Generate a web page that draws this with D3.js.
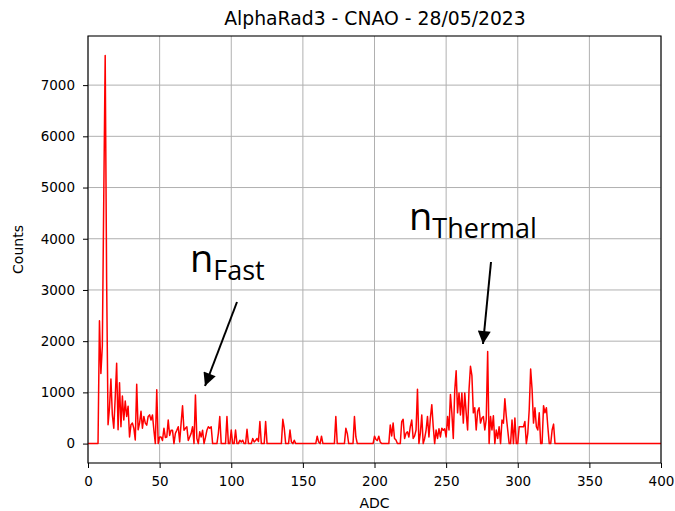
<!DOCTYPE html>
<html>
<head>
<meta charset="utf-8">
<script src="https://cdn.jsdelivr.net/npm/d3@7"></script>
<style>
  html, body { margin: 0; padding: 0; background: #fff; }
  svg { display: block; }
  text { font-family: "DejaVu Sans", sans-serif; fill: #000; }
</style>
</head>
<body>
<svg id="chart" width="675" height="511"></svg>
<script>
// Spectrum: counts per ADC channel (index = channel)
const countsLow = [
  0, 0, 0, 0, 0, 0, 0, 0, 2400, 1370,
  1900, 4800, 7580, 3200, 370, 700, 1260, 560, 300, 900,
  1570, 270, 1190, 330, 930, 460, 830, 530, 730, 130,
  370, 400, 300, 70, 1160, 270, 400, 630, 300, 530,
  400, 360, 530, 560, 460, 560, 260, 0, 1050, 0,
  130, 130, 60, 300, 120, 130, 460, 160, 260, 260,
  0, 200, 260, 330, 30, 400, 740, 260, 300, 330,
  60, 130, 200, 330, 0, 950, 100, 0, 230, 130,
  260, 0, 120, 260, 330, 300, 330, 0, 0, 0,
  0, 200, 530, 0, 0, 0, 0, 530, 0, 0
];
const countsMid = [
  265, 0, 0, 265, 0, 0, 66, 30, 66, 0,
  0, 280, 0, 0, 0, 100, 30, 60, 100, 40,
  430, 0, 0, 0, 430, 0, 0, 0, 0, 0,
  0, 0, 0, 0, 0, 0, 475, 300, 0, 0,
  0, 265, 30, 0, 66, 0, 0, 0, 0, 0,
  0, 0, 0, 0, 0, 0, 0, 0, 0, 0,
  145, 30, 0, 145, 0, 0, 0, 0, 0, 0,
  0, 0, 0, 530, 0, 0, 0, 0, 0, 0,
  300, 200, 0, 0, 0, 0, 530, 130, 0, 0,
  0, 0, 0, 0, 0, 0, 0, 0, 0, 0
];
const countsHigh = [
  145, 80, 60, 145, 30, 0, 0, 0, 0, 0,
  0, 364, 150, 400, 100, 70, 0, 0, 0, 430,
  475, 100, 200, 230, 130, 330, 460, 100, 150, 265,
  1060, 0, 200, 560, 0, 100, 260, 530, 130, 500,
  760, 330, 0, 265, 100, 290, 130, 300, 260, 290,
  130, 530, 265, 960, 600, 100, 1030, 1420, 600, 990,
  560, 990, 400, 990, 600, 265, 1060, 1510, 1325, 600,
  700, 265, 630, 700, 400, 500, 530, 265, 470, 1800,
  0, 530, 265, 545, 0, 265, 100, 330, 0, 460,
  400, 875, 530, 265, 0, 0, 460, 0, 500, 0
];
const countsTail = [
  0, 330, 330, 330, 330, 430, 0, 200, 660, 1455,
  1060, 400, 700, 330, 265, 600, 0, 0, 740, 600,
  700, 330, 0, 0, 265, 380, 0
];
const counts = countsLow.concat(countsMid, countsHigh, countsTail);
while (counts.length < 401) counts.push(0);
const spectrum = counts.map((c, i) => ({ adc: i, count: c }));

const xTicks = [0, 50, 100, 150, 200, 250, 300, 350, 400];
const yTicks = [0, 1000, 2000, 3000, 4000, 5000, 6000, 7000];

const titleText = "AlphaRad3 - CNAO - 28/05/2023";
const xLabel = "ADC";
const yLabel = "Counts";

// Peak annotations: label, subscript, arrow from/to in pixels
const notes = [
  { main: "n", sub: "Fast", tx: 190, ty: 272, from: [237, 302], to: [205, 386] },
  { main: "n", sub: "Thermal", tx: 409, ty: 230, from: [491, 262], to: [483, 344] }
];

const svg = d3.select("#chart");
const plotL = 88, plotR = 661, plotT = 36, plotB = 463;

const x = d3.scaleLinear().domain([0, 400]).range([plotL, plotR]);
const y = d3.scaleLinear().domain([-379, 7959]).range([plotB, plotT]);

// grid
const grid = svg.append("g");
grid.selectAll("line.gx").data(xTicks).enter().append("line")
  .attr("x1", d => x(d)).attr("x2", d => x(d))
  .attr("y1", plotT).attr("y2", plotB)
  .attr("stroke", "#b0b0b0").attr("stroke-width", 1);
grid.selectAll("line.gy").data(yTicks).enter().append("line")
  .attr("x1", plotL).attr("x2", plotR)
  .attr("y1", d => y(d)).attr("y2", d => y(d))
  .attr("stroke", "#b0b0b0").attr("stroke-width", 1);

// spectrum line
const line = d3.line().x(d => x(d.adc)).y(d => y(d.count));
svg.append("path").datum(spectrum)
  .attr("d", line)
  .attr("fill", "none")
  .attr("stroke", "#ff0000")
  .attr("stroke-width", 1.5)
  .attr("stroke-linejoin", "round");

// frame
svg.append("rect")
  .attr("x", plotL).attr("y", plotT)
  .attr("width", plotR - plotL).attr("height", plotB - plotT)
  .attr("fill", "none").attr("stroke", "#000").attr("stroke-width", 1.1);

// axes
const fmt = d3.format("d");
const xAxis = d3.axisBottom(x).tickValues(xTicks).tickFormat(fmt).tickSizeOuter(0).tickSize(5).tickPadding(8);
const yAxis = d3.axisLeft(y).tickValues(yTicks).tickFormat(fmt).tickSizeOuter(0).tickSize(5).tickPadding(8);
const gx = svg.append("g").attr("transform", `translate(0,${plotB})`).call(xAxis);
const gy = svg.append("g").attr("transform", `translate(${plotL},0)`).call(yAxis);
[gx, gy].forEach(g => {
  g.select(".domain").remove();
  g.selectAll("text").style("font-family", "DejaVu Sans").style("font-size", "13.5px").attr("fill", "#000");
  g.selectAll("line").attr("stroke", "#000");
});

// title and axis labels
svg.append("text").attr("x", (plotL + plotR) / 2 + 0.5).attr("y", 25)
  .attr("text-anchor", "middle").style("font-size", "18.8px").text(titleText);
svg.append("text").attr("x", (plotL + plotR) / 2).attr("y", 508)
  .attr("text-anchor", "middle").style("font-size", "14px").text(xLabel);
svg.append("text").attr("transform", `translate(23,${(plotT + plotB) / 2}) rotate(-90)`)
  .attr("text-anchor", "middle").style("font-size", "14px").text(yLabel);

// annotations
const defs = svg.append("defs");
defs.append("marker").attr("id", "head")
  .attr("viewBox", "0 0 10 10").attr("refX", 10).attr("refY", 5)
  .attr("markerWidth", 7).attr("markerHeight", 6.5).attr("markerUnits", "strokeWidth")
  .attr("orient", "auto")
  .append("path").attr("d", "M0,0 L10,5 L0,10 z").attr("fill", "#000");

notes.forEach(n => {
  const t = svg.append("text").attr("x", n.tx).attr("y", n.ty)
    .style("font-family", "Open Sans").style("font-size", "38px");
  t.append("tspan").text(n.main);
  t.append("tspan").attr("dy", 8).style("font-size", "27px").text(n.sub);
  svg.append("line")
    .attr("x1", n.from[0]).attr("y1", n.from[1])
    .attr("x2", n.to[0]).attr("y2", n.to[1])
    .attr("stroke", "#000").attr("stroke-width", 2)
    .attr("marker-end", "url(#head)");
});
</script>
</body>
</html>
